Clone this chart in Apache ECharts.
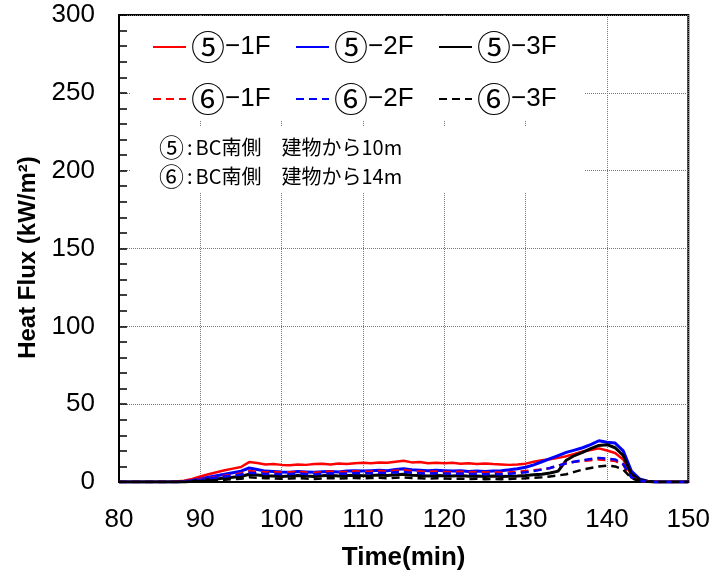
<!DOCTYPE html>
<html>
<head>
<meta charset="utf-8">
<script src="https://cdn.jsdelivr.net/npm/echarts@6/dist/echarts.min.js"></script>
<style>html,body{margin:0;padding:0;background:#fff}#c{width:713px;height:581px}</style>
</head>
<body>
<div id="c"></div>
<script>
var times = [80,81,82,83,84,85,86,87,88,89,90,91,92,93,94,95,96,97,98,99,100,101,102,103,104,105,106,107,108,109,110,111,112,113,114,115,116,117,118,119,120,121,122,123,124,125,126,127,128,129,130,131,132,133,134,135,136,137,138,139,140,141,142,143,144,145,146,147,148,149,150];

var s5_1F = [0,0,0,0,0,0,0,0.3,0.8,2.0,
  3.5,5.0,6.3,7.5,8.6,9.6,12.8,12.2,11.2,11.5,
  11.0,10.8,11.3,11.0,11.5,11.7,11.3,11.9,11.5,12.0,
  12.3,12.0,12.6,12.3,13.0,13.6,12.6,12.9,12.1,12.4,
  12.0,12.3,11.8,12.1,11.6,11.9,11.5,11.3,11.0,11.3,
  11.8,13.0,14.0,14.6,15.5,16.6,18.0,19.6,20.6,21.6,
  20.2,18.6,14.5,4.5,1.2,0.3,0,0,0,0,0];
var s5_2F = [0,0,0,0,0,0,0,0,0.3,1.0,
  2.0,3.0,4.0,5.0,6.0,7.0,9.0,8.0,7.0,6.8,
  6.5,6.3,6.8,6.5,6.2,6.6,6.8,6.5,7.0,7.2,
  7.0,7.3,7.5,7.2,8.0,8.5,7.8,7.5,7.2,7.5,
  7.3,7.0,7.2,6.8,7.0,6.7,7.0,7.3,7.8,8.5,
  9.5,11.0,13.0,15.0,17.0,19.0,20.5,22.0,24.0,26.5,
  25.5,25.0,20.0,7.0,2.0,0.5,0,0,0,0,0];
var s5_3F = [0,0,0,0,0,0,0,0,0,0.5,
  1.0,1.5,2.0,2.5,3.0,3.5,5.0,4.5,4.0,3.8,
  3.6,3.9,4.2,3.8,3.6,4.0,4.3,3.9,4.1,4.4,
  4.0,4.2,4.5,4.1,4.6,5.0,4.4,4.2,3.9,4.1,
  4.0,3.8,4.1,3.7,3.9,3.6,3.8,3.5,3.7,3.9,
  4.2,4.6,5.0,5.8,7.0,14.0,17.0,19.0,21.5,23.5,
  24.0,22.0,17.0,5.0,1.5,0.3,0,0,0,0,0];
var s6_1F = [0,0,0,0,0,0,0,0,0.3,1.0,
  1.8,2.5,3.2,4.0,4.8,5.5,7.0,6.6,6.2,6.4,
  6.1,6.3,6.6,6.2,6.0,6.4,6.7,6.3,6.6,6.9,
  6.6,6.8,7.1,6.8,7.3,7.6,7.0,6.8,6.5,6.7,
  6.5,6.3,6.6,6.2,6.4,6.1,6.3,6.0,6.2,6.5,
  7.0,7.5,8.0,9.0,10.5,12.0,13.0,13.5,14.0,14.5,
  14.0,13.5,11.0,3.0,0.8,0.2,0,0,0,0,0];
var s6_2F = [0,0,0,0,0,0,0,0,0.2,0.8,
  1.5,2.2,2.9,3.6,4.2,4.8,6.0,5.6,5.2,5.3,
  5.0,5.2,5.5,5.1,4.9,5.3,5.6,5.2,5.5,5.8,
  5.5,5.7,6.0,5.7,6.2,6.5,5.9,5.7,5.4,5.6,
  5.4,5.2,5.5,5.1,5.3,5.0,5.2,5.0,5.3,5.7,
  6.2,7.0,8.0,9.0,10.5,12.0,13.0,14.0,14.8,15.5,
  15.0,14.5,11.5,3.0,0.8,0.2,0,0,0,0,0];
var s6_3F = [0,0,0,0,0,0,0,0,0,0.3,
  0.6,0.9,1.2,1.5,1.8,2.1,3.0,2.7,2.4,2.3,
  2.1,2.3,2.5,2.2,2.0,2.3,2.6,2.2,2.4,2.6,
  2.3,2.5,2.7,2.4,2.8,3.0,2.6,2.4,2.2,2.4,
  2.2,2.0,2.3,1.9,2.1,1.8,2.0,1.8,2.0,2.2,
  2.4,2.7,3.0,3.6,4.2,5.0,6.5,8.0,9.0,10.0,
  10.5,10.0,8.0,2.5,0.5,0.1,0,0,0,0,0];

var seriesNames = ['⑤−1F','⑤−2F','⑤−3F','⑥−1F','⑥−2F','⑥−3F'];
var seriesData = [s5_1F, s5_2F, s5_3F, s6_1F, s6_2F, s6_3F];
var noteCircles = ['⑤', '⑥'];
var noteTexts = ['BC南側　建物から10m', 'BC南側　建物から14m'];

var colors = ['#ff0000','#0000ff','#000000','#ff0000','#0000ff','#000000'];
var widths = [2.5,3,3,2.5,2.5,2.5];
var dashed = [false,false,false,true,true,true];

function pairs(arr){ return times.map(function(t,i){ return [t, arr[i]]; }); }

var legendLeft = [152, 295, 438];
var legendTop = [30, 82];

var legends = seriesNames.map(function(n, i){
  return {
    data: [n], left: legendLeft[i % 3], top: legendTop[Math.floor(i / 3)],
    padding: 0, itemWidth: 33, itemHeight: 14, itemGap: 0,
    itemStyle: { opacity: 0 },
    formatter: function(name){ return '{c|' + name.charAt(0) + '}{t|' + name.slice(1) + '}'; },
    textStyle: {
      color: '#000',
      rich: {
        c: { fontSize: 34, fontFamily: '"Noto Sans CJK JP"', color: '#000', lineHeight: 34, verticalAlign: 'middle' },
        t: { fontSize: 26, fontFamily: 'Liberation Sans', color: '#000', lineHeight: 34, verticalAlign: 'middle' }
      }
    }
  };
});

var series = seriesNames.map(function(n, i){
  return {
    name: n, type: 'line', data: pairs(seriesData[i]),
    showSymbol: false, symbol: 'none',
    lineStyle: { color: colors[i], width: widths[i], type: dashed[i] ? [8,5] : 'solid' },
    itemStyle: { color: colors[i] },
    z: 3
  };
});

var noteRich = {
  c: { fontSize: 25, fontFamily: '"Noto Sans CJK JP"', fill: '#000', verticalAlign: 'middle', lineHeight: 26 },
  k: { fontSize: 20, fontFamily: '"Noto Sans CJK JP"', fill: '#000', verticalAlign: 'middle', lineHeight: 26, padding: [0, 3, 0, 3] },
  t: { fontSize: 20, fontFamily: '"Noto Sans CJK JP"', fill: '#000', verticalAlign: 'middle', lineHeight: 26 }
};
function note(i){ return '{c|' + noteCircles[i] + '}{k|:}{t|' + noteTexts[i] + '}'; }

var chart = echarts.init(document.getElementById('c'), null, { renderer: 'canvas' });
chart.setOption({
  animation: false,
  backgroundColor: '#fff',
  grid: { left: 119, top: 15, right: 24, bottom: 99, show: true, borderColor: '#000', borderWidth: 2, backgroundColor: 'transparent' },
  legend: legends,
  xAxis: {
    type: 'value', min: 80, max: 150, interval: 10,
    name: 'Time(min)', nameLocation: 'middle', nameGap: 63,
    nameTextStyle: { fontSize: 26, fontWeight: 'bold', color: '#000', fontFamily: 'Liberation Sans' },
    axisLine: { lineStyle: { color: '#000', width: 2 } },
    axisTick: { show: false },
    axisLabel: { fontSize: 26, color: '#000', margin: 25, fontFamily: 'Liberation Sans' },
    splitLine: { show: true, lineStyle: { color: '#777', type: 'dotted', width: 1 } }
  },
  yAxis: {
    type: 'value', min: 0, max: 300, interval: 50,
    name: 'Heat Flux (kW/m²)', nameLocation: 'middle', nameGap: 78,
    nameTextStyle: { fontSize: 24, fontWeight: 'bold', color: '#000', fontFamily: 'Liberation Sans', padding: [0, 18, 0, 0] },
    axisLine: { lineStyle: { color: '#000', width: 2 } },
    axisTick: { show: true, inside: true, length: 8, lineStyle: { color: '#000', width: 1.5 } },
    minorTick: { show: true, splitNumber: 5, length: 8, lineStyle: { color: '#000', width: 1.5 } },
    axisLabel: { fontSize: 26, color: '#000', margin: 24, fontFamily: 'Liberation Sans' },
    splitLine: { show: true, lineStyle: { color: '#777', type: 'dotted', width: 1 } }
  },
  graphic: [
    { type: 'rect', shape: { x: 130, y: 17, width: 455, height: 103 }, style: { fill: '#fff' }, z: 1, silent: true },
    { type: 'rect', shape: { x: 130, y: 127, width: 455, height: 66 }, style: { fill: '#fff' }, z: 1, silent: true },
    { type: 'text', left: 159, top: 135, z: 5, style: { text: note(0), rich: noteRich } },
    { type: 'text', left: 159, top: 164, z: 5, style: { text: note(1), rich: noteRich } }
  ],
  series: series
});
</script>
</body>
</html>
